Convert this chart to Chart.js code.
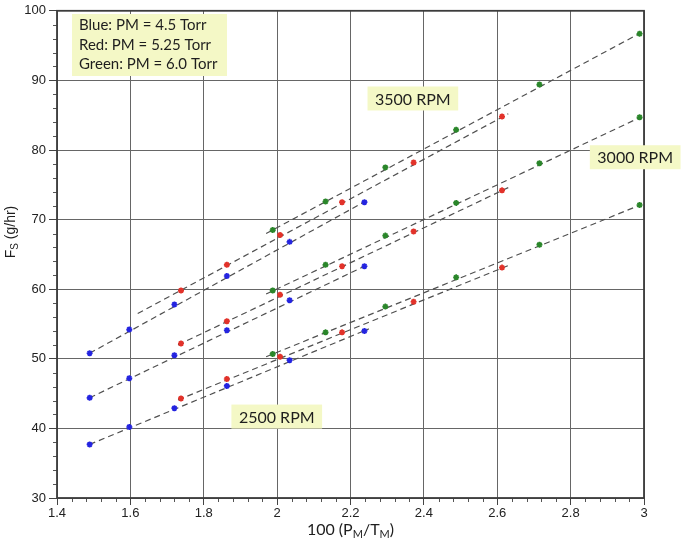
<!DOCTYPE html>
<html><head><meta charset="utf-8">
<script src="https://cdn.jsdelivr.net/npm/chart.js@4.4.1/dist/chart.umd.min.js"></script>
<style>html,body{margin:0;padding:0;background:#fff}#wrap{width:685px;height:545px;position:relative}</style>
</head><body><div id="wrap"><canvas id="c" width="685" height="545"></canvas></div>
<script>
// ---- data ----
const xBlue  = [1.489, 1.597, 1.720, 1.863, 2.034, 2.238];
const xRed   = [1.738, 1.863, 2.008, 2.177, 2.372, 2.613];
const xGreen = [1.988, 2.132, 2.295, 2.488, 2.715, 2.988];

const blue3500  = [50.8, 54.2, 57.8, 61.9, 66.8, 72.5];
const blue3000  = [44.4, 47.2, 50.5, 54.1, 58.4, 63.3];
const blue2500  = [37.7, 40.2, 42.9, 46.1, 49.8, 54.0];
const red3500   = [59.8, 63.5, 67.8, 72.5, 78.2, 84.8];
const red3000   = [52.2, 55.4, 59.2, 63.3, 68.3, 74.2];
const red2500   = [44.3, 47.1, 50.3, 53.8, 58.2, 63.1];
const green3500 = [68.5, 72.6, 77.5, 82.9, 89.4, 96.7];
const green3000 = [59.8, 63.5, 67.7, 72.4, 78.1, 84.7];
const green2500 = [50.7, 53.8, 57.5, 61.7, 66.4, 72.1];

// dashed fit lines: start/end
const fitXBlue      = [1.489, 2.25];
const fitXRed3500   = [1.62, 2.63];
const fitXRed       = [1.73, 2.63];
const fitXGreen     = [1.97, 2.99];
const fitBlue3500   = [50.8, 72.9];
const fitBlue3000   = [44.4, 63.6];
const fitBlue2500   = [37.7, 54.3];
const fitRed3500    = [56.5, 85.2];
const fitRed3000    = [52.0, 74.6];
const fitRed2500    = [44.1, 63.4];
const fitGreen3500  = [68.0, 96.8];
const fitGreen3000  = [59.3, 84.7];
const fitGreen2500  = [50.3, 72.1];

const xTickValues = [1.4, 1.6, 1.8, 2.0, 2.2, 2.4, 2.6, 2.8, 3.0];
const xTickLabels = ['1.4', '1.6', '1.8', '2', '2.2', '2.4', '2.6', '2.8', '3'];
const yTickValues = [30, 40, 50, 60, 70, 80, 90, 100];
const yTickLabels = ['30', '40', '50', '60', '70', '80', '90', '100'];

const legendLines = ['Blue: PM = 4.5 Torr', 'Red: PM = 5.25 Torr', 'Green: PM = 6.0 Torr'];
const rpmLabels = ['3500 RPM', '3000 RPM', '2500 RPM'];
const rpmLabelX = [2.370, 2.976, 1.999];
const rpmLabelY = [87.4, 78.96, 41.7];

// ---- build ----
const BLUE = '#2424e0', RED = '#e2322a', GREEN = '#2a862a', LINE = '#505050';
function pts(xs, ys) { return xs.map((x, i) => ({x: x, y: ys[i]})); }
function scatter(xs, ys, c) {
  return {type: 'scatter', data: pts(xs, ys), backgroundColor: c, borderColor: c,
    pointRadius: 3, pointBorderWidth: 1.7, pointStyle: 'star', order: 0};
}
function fit(xs, ys) {
  return {type: 'line', data: pts(xs, ys), borderColor: LINE, borderWidth: 1.2,
    borderDash: [6, 4], pointRadius: 0, fill: false, tension: 0, order: 1};
}
const datasets = [
  scatter(xBlue, blue3500, BLUE), scatter(xBlue, blue3000, BLUE), scatter(xBlue, blue2500, BLUE),
  scatter(xRed, red3500, RED), scatter(xRed, red3000, RED), scatter(xRed, red2500, RED),
  scatter(xGreen, green3500, GREEN), scatter(xGreen, green3000, GREEN), scatter(xGreen, green2500, GREEN),
  fit(fitXBlue, fitBlue3500), fit(fitXBlue, fitBlue3000), fit(fitXBlue, fitBlue2500),
  fit(fitXRed3500, fitRed3500), fit(fitXRed, fitRed3000), fit(fitXRed, fitRed2500),
  fit(fitXGreen, fitGreen3500), fit(fitXGreen, fitGreen3000), fit(fitXGreen, fitGreen2500)
];

const TICKFONT = {family: "'Liberation Sans', Arial, sans-serif", size: 13};
const ANNOFONT = "Lato, 'Open Sans', sans-serif";
const BOXFILL = '#f4f8c6';

const extras = {
  id: 'extras',
  afterDraw(chart) {
    const ctx = chart.ctx, a = chart.chartArea, xs = chart.scales.x, ys = chart.scales.y;
    ctx.save();
    // minor ticks
    ctx.strokeStyle = '#555'; ctx.lineWidth = 1;
    ctx.beginPath();
    for (let i = 0; i <= 40; i++) {
      if (i % 5 === 0) continue;
      const px = Math.round(xs.getPixelForValue(1.4 + i * 0.04)) + 0.5;
      ctx.moveTo(px, a.bottom); ctx.lineTo(px, a.bottom + 4);
    }
    for (let i = 0; i <= 35; i++) {
      if (i % 5 === 0) continue;
      const py = Math.round(ys.getPixelForValue(30 + i * 2)) + 0.5;
      ctx.moveTo(a.left - 4, py); ctx.lineTo(a.left, py);
    }
    ctx.stroke();
    // frame
    ctx.strokeStyle = '#3c3c3c'; ctx.lineWidth = 1.8;
    ctx.strokeRect(a.left, a.top, a.right - a.left, a.bottom - a.top);

    // legend box
    ctx.fillStyle = BOXFILL;
    ctx.fillRect(72, 14, 155, 62);
    ctx.fillStyle = '#1e1e1e';
    ctx.font = '15px ' + ANNOFONT;
    ctx.textAlign = 'left'; ctx.textBaseline = 'middle';
    const ly = [25.5, 45, 64.5];
    legendLines.forEach((t, i) => ctx.fillText(t, 79, ly[i]));

    // RPM labels
    ctx.font = '16px ' + ANNOFONT;
    rpmLabels.forEach((t, i) => {
      const cx = xs.getPixelForValue(rpmLabelX[i]);
      const cy = ys.getPixelForValue(rpmLabelY[i]);
      const w = ctx.measureText(t).width + 15, h = 24;
      ctx.fillStyle = BOXFILL;
      ctx.fillRect(cx - w / 2, cy - h / 2, w, h);
      ctx.fillStyle = '#1e1e1e';
      ctx.textAlign = 'center';
      ctx.fillText(t, cx, cy + 1);
    });

    // x title with subscripts
    const parts = [['100 (P', 0], ['M', 1], ['/T', 0], ['M', 1], [')', 0]];
    const big = '16px ' + ANNOFONT, small = '11px ' + ANNOFONT;
    let total = 0;
    parts.forEach(p => { ctx.font = p[1] ? small : big; total += ctx.measureText(p[0]).width; });
    let x0 = (a.left + a.right) / 2 - total / 2;
    const by = 535;
    ctx.textAlign = 'left'; ctx.textBaseline = 'alphabetic'; ctx.fillStyle = '#1e1e1e';
    parts.forEach(p => {
      ctx.font = p[1] ? small : big;
      ctx.fillText(p[0], x0, by + (p[1] ? 3 : 0));
      x0 += ctx.measureText(p[0]).width;
    });

    // y title rotated with subscript
    ctx.translate(15, 232);
    ctx.rotate(-Math.PI / 2);
    const yparts = [['F', 0], ['S', 1], [' (g/hr)', 0]];
    const ybig = "14px 'Liberation Sans', Arial, sans-serif", ysmall = "10px 'Liberation Sans', Arial, sans-serif";
    let yt = 0;
    yparts.forEach(p => { ctx.font = p[1] ? ysmall : ybig; yt += ctx.measureText(p[0]).width; });
    let yx = -yt / 2;
    yparts.forEach(p => {
      ctx.font = p[1] ? ysmall : ybig;
      ctx.fillText(p[0], yx, p[1] ? 3 : 0);
      yx += ctx.measureText(p[0]).width;
    });
    ctx.restore();
  }
};

new Chart(document.getElementById('c'), {
  data: {datasets: datasets},
  options: {
    responsive: false, animation: false, devicePixelRatio: 1,
    layout: {padding: {top: 6, right: 41, left: 0, bottom: 0}},
    plugins: {legend: {display: false}, tooltip: {enabled: false}},
    scales: {
      x: {type: 'linear', min: 1.4, max: 3,
        afterBuildTicks: s => { s.ticks = xTickValues.map(v => ({value: v})); },
        afterFit: s => { s.height = 47; },
        ticks: {font: TICKFONT, color: '#222', padding: 1, maxRotation: 0, autoSkip: false,
          callback: (v) => { const i = xTickValues.findIndex(t => Math.abs(t - v) < 1e-6); return i >= 0 ? xTickLabels[i] : ''; }},
        grid: {color: '#666666', lineWidth: 1, tickLength: 7, tickColor: '#444'},
        border: {display: false}
      },
      y: {type: 'linear', min: 30, max: 100,
        afterBuildTicks: s => { s.ticks = yTickValues.map(v => ({value: v})); },
        afterFit: s => { s.width = 57; },
        ticks: {font: TICKFONT, color: '#222', padding: 3,
          callback: (v) => { const i = yTickValues.indexOf(v); return i >= 0 ? yTickLabels[i] : ''; }},
        grid: {color: '#666666', lineWidth: 1, tickLength: 8, tickColor: '#444'},
        border: {display: false}
      }
    }
  },
  plugins: [extras]
});
</script>
</body></html>
